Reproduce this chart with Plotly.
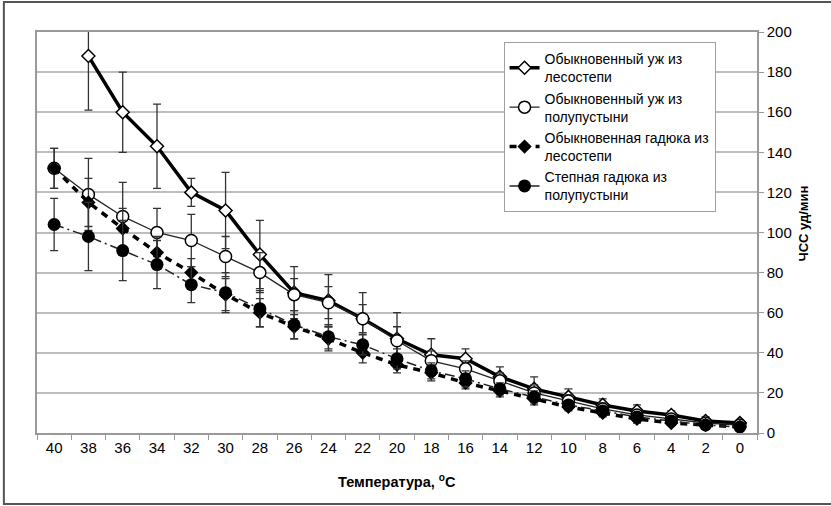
import plotly.graph_objects as go

temps = ["40", "38", "36", "34", "32", "30", "28", "26", "24", "22", "20",
         "18", "16", "14", "12", "10", "8", "6", "4", "2", "0"]

# Обыкновенный уж из лесостепи (нет значения при 40)
uzh_les = [None, 188, 160, 143, 120, 111, 89, 70, 66, 57, 47, 39, 37, 28, 22, 18, 14, 11, 9, 6, 5]
uzh_les_err = [None, 27, 20, 21, 7, 19, 17, 13, 13, 13, 13, 8, 5, 5, 6, 4, 3, 3, 2, 2, 1.5]

# Обыкновенный уж из полупустыни
uzh_pol = [132, 119, 108, 100, 96, 88, 80, 69, 65, 57, 46, 36, 32, 26, 20, 16, 12, 9, 7, 5, 4]
uzh_pol_err = [10, 18, 17, 12, 13, 10, 10, 8, 8, 7, 7, 5, 4, 4, 4, 3, 3, 2, 2, 1, 1]

# Обыкновенная гадюка из лесостепи
gad_les = [132, 115, 102, 90, 80, 69, 60, 53, 47, 40, 34, 30, 25, 21, 17, 13, 10, 7, 5, 4, 3]
gad_les_err = [10, 12, 10, 8, 7, 8, 7, 6, 6, 5, 4, 4, 3, 3, 3, 2, 2, 2, 1, 1, 1]

# Степная гадюка из полупустыни
gad_step = [104, 98, 91, 84, 74, 70, 62, 54, 48, 44, 37, 31, 27, 22, 18, 14, 11, 8, 6, 4, 3]
gad_step_err = [13, 17, 15, 12, 9, 10, 9, 7, 6, 5, 5, 4, 4, 3, 3, 2, 2, 2, 1, 1, 1]

FONT = "Liberation Sans, Arial, sans-serif"
GRID = "#bdbdbd"


def err(vals):
    return dict(type="data", array=vals, visible=True, color="#333333",
                thickness=1.3, width=4)


fig = go.Figure()

fig.add_trace(go.Scatter(
    x=temps, y=uzh_les, name="Обыкновенный уж из<br>лесостепи",
    mode="lines+markers",
    line=dict(color="black", width=3.5),
    marker=dict(symbol="diamond", size=10, color="white",
                line=dict(color="black", width=1.5)),
    error_y=err(uzh_les_err),
))
fig.add_trace(go.Scatter(
    x=temps, y=uzh_pol, name="Обыкновенный уж из<br>полупустыни",
    mode="lines+markers",
    line=dict(color="#222222", width=1.3),
    marker=dict(symbol="circle", size=12, color="white",
                line=dict(color="black", width=1.5)),
    error_y=err(uzh_pol_err),
))
fig.add_trace(go.Scatter(
    x=temps, y=gad_les, name="Обыкновенная гадюка из<br>лесостепи",
    mode="lines+markers",
    line=dict(color="black", width=3.5, dash="7px,6px"),
    marker=dict(symbol="diamond", size=11, color="black"),
    error_y=err(gad_les_err),
))
fig.add_trace(go.Scatter(
    x=temps, y=gad_step, name="Степная гадюка из<br>полупустыни",
    mode="lines+markers",
    line=dict(color="#222222", width=1.5, dash="10px,4px,2px,4px"),
    marker=dict(symbol="circle", size=13, color="black"),
    error_y=err(gad_step_err),
))

fig.update_layout(
    width=831, height=506,
    margin=dict(l=37, r=74, t=32, b=73, autoexpand=False),
    paper_bgcolor="white", plot_bgcolor="white",
    font=dict(family=FONT, size=13, color="black"),
    showlegend=True,
    legend=dict(x=0.648, y=0.975, xanchor="left", yanchor="top",
                bgcolor="white", bordercolor="#a0a0a0", borderwidth=1,
                font=dict(family=FONT, size=14), tracegroupgap=0,
                itemwidth=30),
    xaxis=dict(type="category", categoryorder="array", categoryarray=temps,
               range=[-0.5, 20.5], automargin=False,
               showgrid=False, showline=True, linecolor="#999999", linewidth=1.5,
               mirror=True, ticks="outside", tickson="boundaries", ticklen=5,
               tickcolor="#999999", tickfont=dict(size=15)),
    yaxis=dict(side="right", range=[0, 200], dtick=20, showgrid=True,
               automargin=False,
               gridcolor=GRID, gridwidth=1.5, showline=True,
               linecolor="#999999", linewidth=1.5, mirror=True,
               ticks="outside", ticklen=5, tickcolor="#999999",
               tickfont=dict(size=15), zeroline=False),
    annotations=[
        dict(text="<b>Температура, <sup>o</sup>C</b>", xref="paper", yref="paper",
             x=0.5, y=-0.12, xanchor="center", yanchor="middle",
             showarrow=False, font=dict(size=14.5)),
        dict(text="<b>ЧСС уд/мин</b>", xref="paper", yref="paper",
             x=1.065, y=0.522, xanchor="center", yanchor="middle",
             textangle=-90, showarrow=False, font=dict(size=13)),
    ],
    shapes=[dict(type="rect", xref="paper", yref="paper",
                 x0=-0.046, x1=1.11, y0=-0.177, y1=1.075,
                 line=dict(color="#555555", width=2), layer="below")],
)

fig.write_html("out.html", config={"displayModeBar": False},
               post_script="document.body.style.margin='0px';")
